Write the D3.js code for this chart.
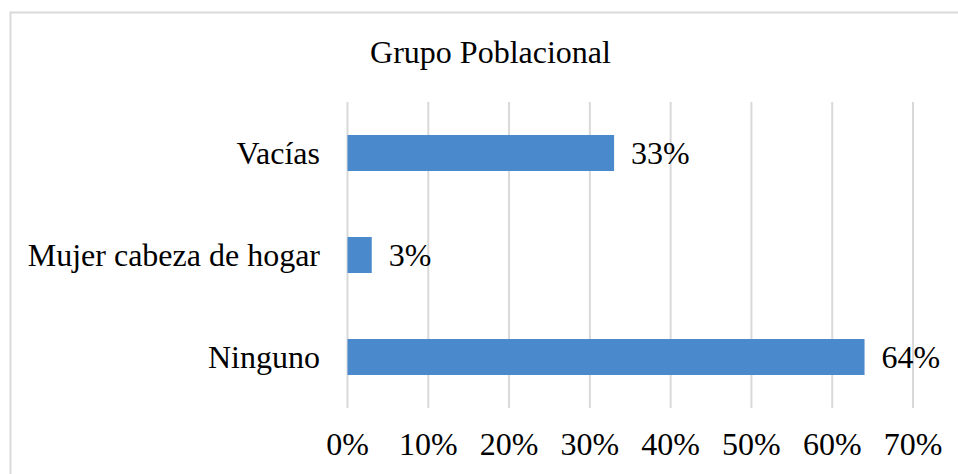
<!DOCTYPE html>
<html><head><meta charset="utf-8">
<script src="https://cdn.jsdelivr.net/npm/d3@7"></script>
<style>
html,body{margin:0;padding:0;background:#fff;}
svg{display:block;font-family:"Liberation Serif","Times New Roman",serif;}
</style></head>
<body>
<svg id="chart" width="958" height="474"></svg>
<script>
const title = "Grupo Poblacional";
const categories = ["Vacías", "Mujer cabeza de hogar", "Ninguno"];
const values = [0.33, 0.03, 0.64];
const valueLabels = ["33%", "3%", "64%"];
const tickValues = [0, 0.1, 0.2, 0.3, 0.4, 0.5, 0.6, 0.7];
const tickLabels = ["0%", "10%", "20%", "30%", "40%", "50%", "60%", "70%"];

const svg = d3.select("#chart");
const plot = {left: 347.5, right: 913, top: 102, bottom: 408};
const fontSize = 32;

// outer chart border
svg.append("rect").attr("x", 10.5).attr("y", 12.5).attr("width", 960).attr("height", 480)
  .attr("fill", "#fff").attr("stroke", "#d9d9d9").attr("stroke-width", 2);

const x = d3.scaleLinear().domain([0, 0.7]).range([plot.left, plot.right]);
const y = d3.scaleBand().domain(categories).range([plot.top, plot.bottom]).paddingInner(0.647).paddingOuter(0.3235);

// gridlines
svg.append("g").selectAll("line").data(tickValues).join("line")
  .attr("x1", d => x(d)).attr("x2", d => x(d))
  .attr("y1", plot.top).attr("y2", plot.bottom)
  .attr("stroke", "#d9d9d9").attr("stroke-width", 2);

// title
svg.append("text").attr("x", 490.5).attr("y", 62.5).attr("text-anchor", "middle")
  .attr("font-size", 32).attr("fill", "#000").text(title);

// bars
const data = categories.map((c, i) => ({c, v: values[i], l: valueLabels[i]}));
svg.append("g").selectAll("rect").data(data).join("rect")
  .attr("x", x(0)).attr("y", d => y(d.c))
  .attr("width", d => x(d.v) - x(0)).attr("height", y.bandwidth())
  .attr("fill", "#4a89cc");

// value labels
svg.append("g").selectAll("text").data(data).join("text")
  .attr("x", d => x(d.v) + 17).attr("y", d => y(d.c) + y.bandwidth() / 2 + 10.5)
  .attr("font-size", fontSize).attr("fill", "#000").text(d => d.l);

// category axis labels
svg.append("g").selectAll("text").data(categories).join("text")
  .attr("x", 320).attr("y", d => y(d) + y.bandwidth() / 2 + 10.5)
  .attr("text-anchor", "end").attr("font-size", fontSize).attr("fill", "#000").text(d => d);

// x tick labels
svg.append("g").selectAll("text").data(tickValues).join("text")
  .attr("x", d => x(d)).attr("y", 455).attr("text-anchor", "middle")
  .attr("font-size", fontSize).attr("fill", "#000").text((d, i) => tickLabels[i]);
</script>
</body></html>
